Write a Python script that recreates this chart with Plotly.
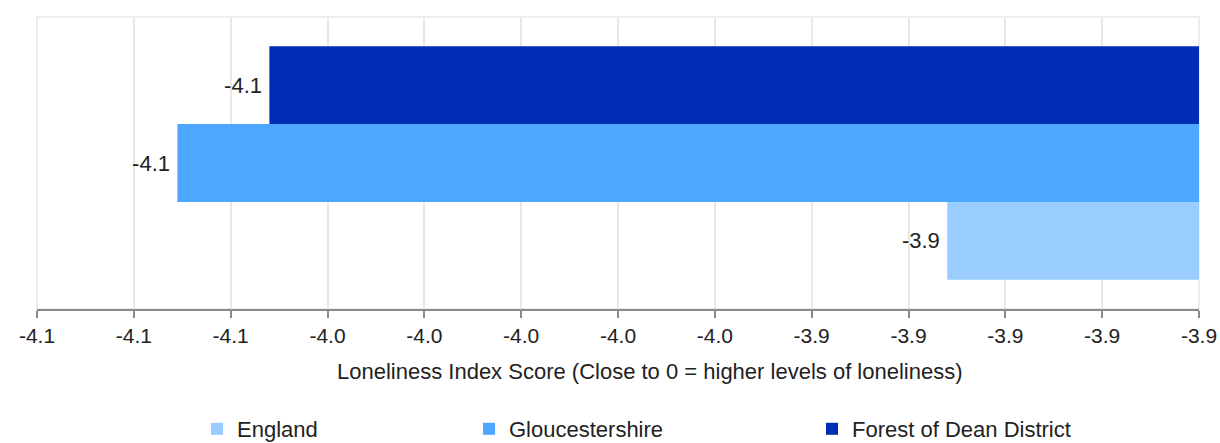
import plotly.graph_objects as go

# Loneliness index scores by area
areas = ["England", "Gloucestershire", "Forest of Dean District"]
scores = [-3.912, -4.071, -4.052]
colors = ["#99ccff", "#4da6ff", "#002db3"]
legend_ids = ["legend", "legend2", "legend3"]

# Axis ticks (labels rounded to one decimal place)
tick_values = [-4.10, -4.08, -4.06, -4.04, -4.02, -4.00, -3.98,
               -3.96, -3.94, -3.92, -3.90, -3.88, -3.86]
tick_labels = ["-4.1", "-4.1", "-4.1", "-4.0", "-4.0", "-4.0", "-4.0",
               "-4.0", "-3.9", "-3.9", "-3.9", "-3.9", "-3.9"]
axis_title = "Loneliness Index Score (Close to 0 = higher levels of loneliness)"

FONT = "Liberation Sans, Arial, sans-serif"
TEXT = "#222222"

fig = go.Figure()
for name, val, col, lg in zip(areas, scores, colors, legend_ids):
    fig.add_trace(go.Bar(
        y=[0], x=[val], orientation="h", name=name,
        marker=dict(color=col, line=dict(width=0)),
        # thin space keeps the value label a little clear of the bar end
        texttemplate="%{x:.1f}\u2009", textposition="outside",
        textfont=dict(family=FONT, size=22, color=TEXT),
        legend=lg, showlegend=True, hoverinfo="name+x",
    ))

W, H = 1220, 443
ml, mr, mt, mb = 37, 21, 17, 134
pw, ph = W - ml - mr, H - mt - mb


def px_x(px):
    return (px - ml) / pw


def px_y(py):
    return (H - mb - py) / ph


def legend_at(px, py):
    return dict(
        orientation="h", xref="container", yref="container",
        x=px / W, y=1 - py / H, xanchor="left", yanchor="middle",
        font=dict(family=FONT, size=22, color=TEXT),
        bgcolor="rgba(0,0,0,0)", borderwidth=0, visible=True,
    )


fig.update_layout(
    width=W, height=H,
    margin=dict(l=ml, r=mr, t=mt, b=mb, autoexpand=False),
    paper_bgcolor="white", plot_bgcolor="white",
    barmode="group", bargap=0.2, bargroupgap=0,
    font=dict(family=FONT, size=22, color=TEXT),
    xaxis=dict(
        range=[tick_values[0], tick_values[-1]],
        tickmode="array", tickvals=tick_values, ticktext=tick_labels,
        tickfont=dict(family=FONT, size=21, color=TEXT),
        showgrid=True, gridcolor="#e8e8e8", gridwidth=1.5,
        zeroline=False,
        showline=True, linecolor="#8a8a8a", linewidth=2,
        ticks="outside", ticklen=7, tickwidth=2, tickcolor="#8a8a8a",
    ),
    yaxis=dict(range=[-0.5, 0.5], showticklabels=False, showgrid=False,
               zeroline=False, showline=False, fixedrange=True),
    showlegend=True,
    legend=legend_at(197, 429),
    legend2=legend_at(469, 429),
    legend3=legend_at(812, 429),
    shapes=[dict(type="rect", xref="paper", yref="paper", x0=0, x1=1, y0=0, y1=1,
                 line=dict(color="#e8e8e8", width=1.5), layer="below")],
    annotations=[dict(
        text=axis_title, xref="paper", yref="paper",
        x=px_x(649.5), y=px_y(371), xanchor="center", yanchor="middle",
        showarrow=False, font=dict(family=FONT, size=22, color=TEXT),
    )],
)

fig.write_html("out.html")
